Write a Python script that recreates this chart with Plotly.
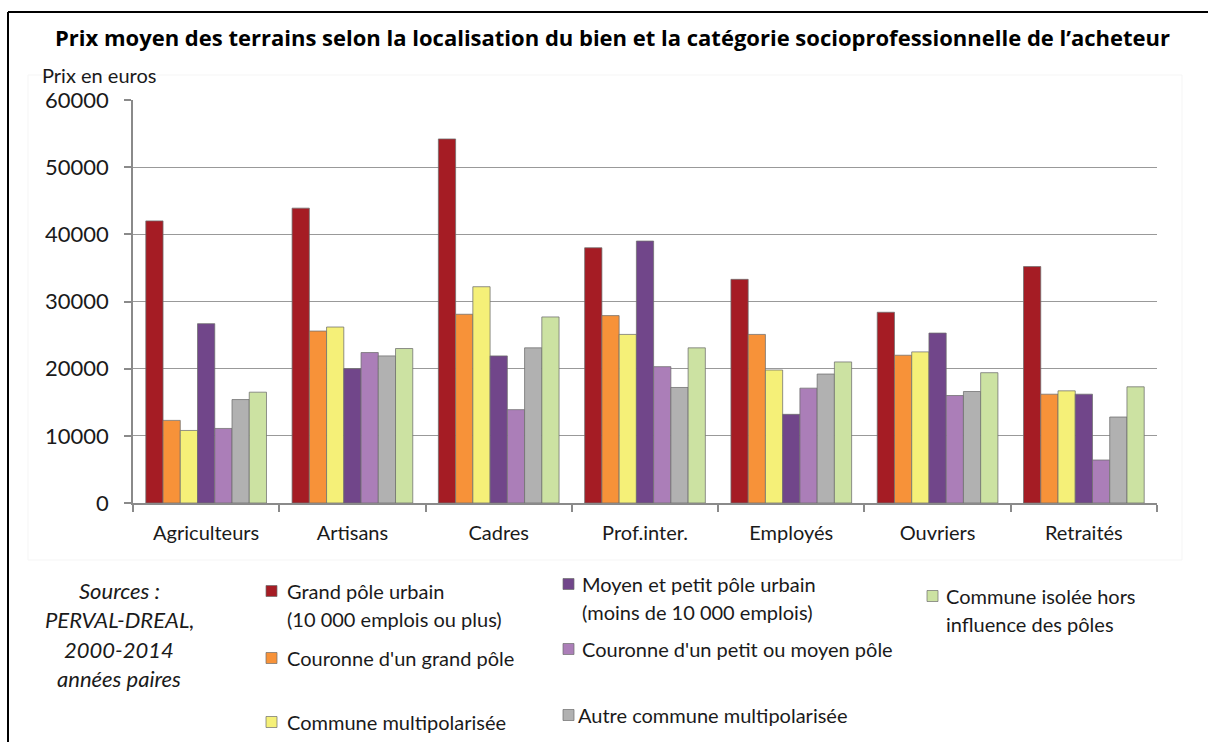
import plotly.graph_objects as go

# Catégories socioprofessionnelles (axe des abscisses)
categories = ["Agriculteurs", "Artisans", "Cadres", "Prof.inter.", "Employés", "Ouvriers", "Retraités"]

# Localisation du bien (séries)
series_names = [
    "Grand pôle urbain\n(10 000 emplois ou plus)",
    "Couronne d'un grand pôle",
    "Commune multipolarisée",
    "Moyen et petit pôle urbain\n(moins de 10 000 emplois)",
    "Couronne d'un petit ou moyen pôle",
    "Autre commune multipolarisée",
    "Commune isolée hors\ninfluence des pôles",
]

# Prix moyen en euros, une liste par localisation
grand_pole = [42000, 43900, 54200, 38000, 33300, 28400, 35200]
couronne_grand_pole = [12300, 25600, 28100, 27900, 25100, 22000, 16200]
commune_multipolarisee = [10800, 26200, 32200, 25100, 19800, 22500, 16700]
moyen_petit_pole = [26700, 20000, 21900, 39000, 13200, 25300, 16200]
couronne_petit_pole = [11100, 22400, 13900, 20300, 17100, 16000, 6400]
autre_multipolarisee = [15400, 21900, 23100, 17200, 19200, 16600, 12800]
commune_isolee = [16500, 23000, 27700, 23100, 21000, 19400, 17300]

series_values = [
    grand_pole, couronne_grand_pole, commune_multipolarisee,
    moyen_petit_pole, couronne_petit_pole, autre_multipolarisee, commune_isolee,
]

y_ticks = [0, 10000, 20000, 30000, 40000, 50000, 60000]
source_lines = ["Sources :", "PERVAL-DREAL,", "2000-2014", "années paires"]

colors = ["#A51C24", "#F79239", "#F5F078", "#71468A", "#AB7EB8", "#B1B1B1", "#CCE2A2"]

W, H = 1208, 742
PL, PR, PT, PB = 133, 1157, 100, 503  # plot area in pixels

def px(x):
    return (x - PL) / (PR - PL)

def py(y):
    return (PB - y) / (PB - PT)

FONT = "Lato"
TITLE_FONT = "Open Sans"
TXT = "#1a1a1a"

fig = go.Figure()
for name, vals, col in zip(series_names, series_values, colors):
    fig.add_trace(go.Bar(
        x=categories, y=vals, name=name.replace("\n", " "),
        marker=dict(color=col, line=dict(color="rgba(110,110,110,0.75)", width=1)),
        showlegend=False,
    ))

shapes = []
annotations = []

# outer frame (top and left edges)
shapes.append(dict(type="line", xref="paper", yref="paper",
                   x0=px(8), x1=px(W + 5), y0=py(12), y1=py(12),
                   line=dict(color="black", width=2)))
shapes.append(dict(type="line", xref="paper", yref="paper",
                   x0=px(8), x1=px(8), y0=py(12), y1=py(H + 5),
                   line=dict(color="black", width=2)))
# faint chart-area border
shapes.append(dict(type="rect", xref="paper", yref="paper",
                   x0=px(28), x1=px(1182), y0=py(75), y1=py(560),
                   line=dict(color="#f5f5f5", width=1), layer="below"))

# title
annotations.append(dict(
    text="<b>Prix moyen des terrains selon la localisation du bien et la catégorie socioprofessionnelle de l’acheteur</b>",
    xref="paper", yref="paper", x=px(612), y=py(37), xanchor="center", yanchor="middle",
    showarrow=False, font=dict(family=TITLE_FONT, size=22, color="black")))

# y axis caption
annotations.append(dict(text="Prix en euros", xref="paper", yref="paper",
                        x=px(40), y=py(75), xanchor="left", yanchor="middle",
                        showarrow=False, font=dict(family=FONT, size=20, color=TXT)))

# sources
for i, line in enumerate(source_lines):
    annotations.append(dict(text=f"<i>{line}</i>", xref="paper", yref="paper",
                            x=px(119), y=py(590 + 29.5 * i), xanchor="center", yanchor="middle",
                            showarrow=False, font=dict(family=FONT, size=22, color=TXT)))

# legend: (swatch left x, swatch centre y, text x)
legend_pos = [
    (266, 591, 285), (266, 658, 285), (266, 722, 285),
    (563, 584, 580), (563, 649, 580), (563, 715, 576),
    (927, 596, 944),
]
for (sx, sy, tx), name, col in zip(legend_pos, series_names, colors):
    shapes.append(dict(type="rect", xref="paper", yref="paper",
                       x0=px(sx), x1=px(sx + 11), y0=py(sy - 5.5), y1=py(sy + 5.5),
                       fillcolor=col, line=dict(color="rgba(110,110,110,0.7)", width=1)))
    for j, line in enumerate(name.split("\n")):
        annotations.append(dict(text=line, xref="paper", yref="paper",
                                x=px(tx), y=py(sy + 28 * j), xanchor="left", yanchor="middle",
                                showarrow=False, font=dict(family=FONT, size=20, color=TXT)))

fig.update_layout(
    width=W, height=H,
    margin=dict(l=PL, r=W - PR, t=PT, b=H - PB),
    paper_bgcolor="white", plot_bgcolor="white",
    barmode="group", bargap=0.175, bargroupgap=0,
    font=dict(family=FONT, color=TXT),
    shapes=shapes, annotations=annotations,
)
fig.update_yaxes(
    range=[0, 60000], tickvals=y_ticks, ticktext=[str(v) for v in y_ticks],
    showgrid=True, gridcolor="#999999", gridwidth=1.4,
    showline=True, linecolor="#8a8a8a", linewidth=1.5,
    ticks="outside", ticklen=7, tickcolor="#8a8a8a", tickwidth=1.5,
    tickfont=dict(family=FONT, size=22, color=TXT), ticklabelstandoff=11,
    zeroline=False,
)
fig.update_xaxes(
    showline=True, linecolor="#8a8a8a", linewidth=1.5,
    ticks="outside", tickson="boundaries", ticklen=7, tickcolor="#8a8a8a", tickwidth=1.5,
    tickfont=dict(family=FONT, size=20, color=TXT), ticklabelstandoff=11,
)

fig.write_html("out.html")
